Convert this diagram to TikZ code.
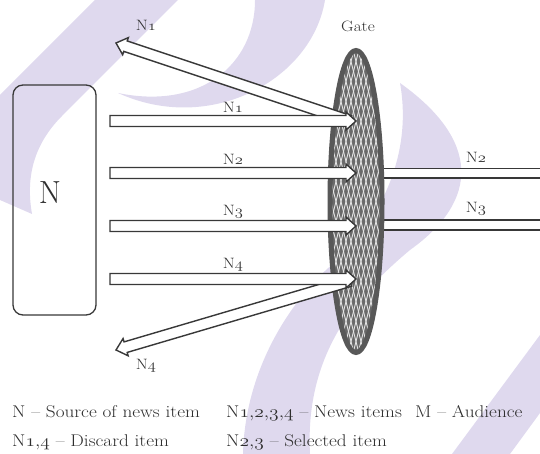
\documentclass[tikz,border=0pt]{standalone}
\usetikzlibrary{positioning, calc, shapes.geometric}
\definecolor{wmark}{HTML}{DFD9EE}
\definecolor{inkline}{HTML}{383838}
\definecolor{inktext}{HTML}{2E2E2E}
\definecolor{gaterim}{HTML}{585858}
\definecolor{gatemesh}{HTML}{6A6A6A}
\newcommand\osn[1]{$\mathnormal{#1}$}
\begin{document}
\begin{tikzpicture}[x=1pt, y=1pt, srcbox/.style={draw=inkline, line width=1.3pt, rounded corners=10pt, minimum width=83pt, minimum height=230pt, inner sep=0pt, font=\fontsize{32}{32}\selectfont, text=inktext}, gatebody/.style={ellipse, fill=gatemesh, minimum width=56pt, minimum height=306pt, inner sep=0pt}, mesh/.style={white!80!gray, line width=0.9pt}, fat/.style={draw=inkline, fill=white, line width=1.4pt, line join=miter, to path={let \p1=($(\tikztotarget)-(\tikztostart)$), \n1={atan2(\y1,\x1)}, \n2={veclen(\x1,\y1)-10} in ($(\tikztostart)+(\n1+90:5.5)$) -- ($(\tikztostart)+(\n1:\n2)+(\n1+90:5.5)$) -- ($(\tikztostart)+(\n1:\n2)+(\n1+90:9)$) -- (\tikztotarget) -- ($(\tikztostart)+(\n1:\n2)+(\n1-90:9)$) -- ($(\tikztostart)+(\n1:\n2)+(\n1-90:5.5)$) -- ($(\tikztostart)+(\n1-90:5.5)$) -- cycle}}, outline/.style={draw=inkline, line width=1.6pt, double=white, double distance=8pt}, itemlbl/.style={font=\fontsize{15}{15}\selectfont, text=inktext, inner sep=0pt, xscale=1.15}, keytxt/.style={font=\fontsize{17}{17}\selectfont, text=inktext, anchor=base west, inner sep=0pt, xscale=1.13}]
\useasboundingbox (0,0) rectangle (540,454);
% watermark
\fill[wmark] (95,454) -- (178,454) -- (62,338) .. controls (32,308) and (26,274) .. (32,240) -- (0,254) -- (0,359) -- cycle;
\fill[wmark] (325,454) .. controls (312,374) and (210,319) .. (118,361) .. controls (200,344) and (255,389) .. (255,454) -- cycle;
\fill[wmark] (400,371) .. controls (480,314) and (480,254) .. (410,204) .. controls (350,154) and (305,94) .. (310,0) -- (243,0) .. controls (245,84) and (290,154) .. (335,192) .. controls (385,239) and (412,304) .. cycle;
\fill[wmark] (540,119) -- (452,0) -- (510,0) -- (540,41) -- cycle;
\node[srcbox] (src) at (54.5,254) {\hspace*{-9pt}\raisebox{14pt}{N}};
\coordinate (gc) at (356,252.5);
\coordinate (o2) at (545,280.5);
\coordinate (o3) at (545,229);
\draw[outline] (gc |- o2) -- (o2);
\draw[outline] (gc |- o3) -- (o3);
\node[gatebody] (gate) at (gc) {};
\begin{scope}
\clip (gate.center) ellipse [x radius=28pt, y radius=153pt];
\foreach \k in {-24,...,24} {
\draw[mesh] ($(gate.center)+(\k*5,0)$) +(-40,-160) -- +(40,160);
\draw[mesh] ($(gate.center)+(\k*5,0)$) +(40,-160) -- +(-40,160);
}
\end{scope}
\draw[gaterim, line width=5pt] (gate.center) ellipse [x radius=26pt, y radius=151pt];
\node[itemlbl] (gatelbl) at (358,428) {Gate};
% discarded items
\coordinate (k1) at (350,333);
\coordinate (k4) at (350,173);
\coordinate (d1) at (116,411);
\coordinate (d4) at (116,104);
\draw[fat] (k1) to (d1);
\draw[fat] (k4) to (d4);
\node[itemlbl] (dl1) at (146,429) {N\osn{1}};
\node[itemlbl] (dl4) at (146,88) {N\osn{4}};
% news items
\foreach \i/\y in {1/333, 2/281, 3/228, 4/175} {
\coordinate (s\i) at (110,\y);
\coordinate (t\i) at (356,\y);
\draw[fat] (s\i) to (t\i);
\node[itemlbl] (il\i) at ($(s\i)!0.5!(t\i)+(0,14)$) {N\osn{\i}};
}
\node[itemlbl] (ol2) at (476,297) {N\osn{2}};
\node[itemlbl] (ol3) at (476,245) {N\osn{3}};
% key
\node[keytxt] (key1) at (12,36) {N -- Source of news item};
\node[keytxt] (key2) at (226,36) {N\osn{1{,}2{,}3{,}4} -- News items};
\node[keytxt] (key3) at (415,36) {M -- Audience};
\node[keytxt] (key4) at (12,7) {N\osn{1{,}4} -- Discard item};
\node[keytxt] (key5) at (226,7) {N\osn{2{,}3} -- Selected item};
\end{tikzpicture}
\end{document}
